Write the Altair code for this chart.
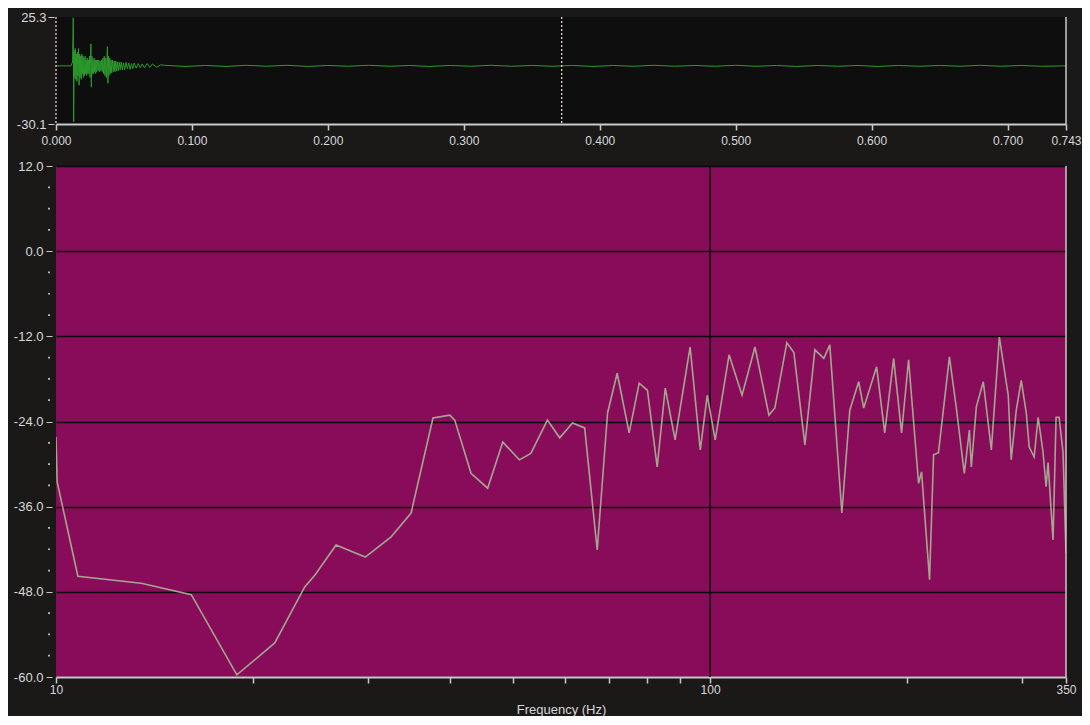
import altair as alt
import pandas as pd

# ---------------- Top panel: waveform ----------------
WAVE_T = [0.000, 0.011, 0.0122, 0.0127, 0.0130, 0.0134, 0.0138, 0.0142, 0.0146, 0.0150,
          0.0154, 0.0158, 0.0162, 0.0166, 0.0170, 0.0174, 0.0178, 0.0182, 0.0186, 0.0190,
          0.0194, 0.0198, 0.0202, 0.0206, 0.0210, 0.0214, 0.0218, 0.0222, 0.0226, 0.0230,
          0.0234, 0.0238, 0.0242, 0.0246, 0.0250, 0.0254, 0.0257, 0.0260, 0.0264, 0.0268,
          0.0272, 0.0276, 0.0280, 0.0284, 0.0288, 0.0292, 0.0296, 0.0300, 0.0305, 0.0310,
          0.0315, 0.0320, 0.0325, 0.0330, 0.0335, 0.0340, 0.0345, 0.0350, 0.0355, 0.0360,
          0.0365, 0.0370, 0.0378, 0.0382, 0.0386, 0.0390, 0.0395, 0.0400, 0.0405, 0.0410,
          0.0416, 0.0422, 0.0428, 0.0434, 0.0440, 0.0446, 0.0452, 0.0458, 0.0465, 0.0472,
          0.0480, 0.0488, 0.0496, 0.0505, 0.0515, 0.0525, 0.0535, 0.0545, 0.0555, 0.0565,
          0.0575, 0.0590, 0.0605, 0.0620, 0.0635, 0.0650, 0.0670, 0.0690, 0.0710, 0.0740,
          0.0770, 0.0800, 0.0950, 0.1100, 0.1250, 0.1400, 0.1550, 0.1700, 0.1850, 0.2000,
          0.2150, 0.2300, 0.2450, 0.2600, 0.2750, 0.2900, 0.3050, 0.3200, 0.3350, 0.3500,
          0.3650, 0.3800, 0.3950, 0.4100, 0.4250, 0.4400, 0.4550, 0.4700, 0.4850, 0.5000,
          0.5150, 0.5300, 0.5450, 0.5600, 0.5750, 0.5900, 0.6050, 0.6200, 0.6350, 0.6500,
          0.6650, 0.6800, 0.6950, 0.7100, 0.7250, 0.7430]
WAVE_V = [0.0, 0.0, 2.0, 24.9, -29.0, 8.0, -6.0, 9.0, -7.0, 6.0,
          -8.0, 7.0, -5.0, 9.0, -10.0, 6.0, -6.0, 5.0, -7.0, 6.0,
          -4.0, 5.0, -6.0, 4.0, -5.0, 5.0, -4.0, 3.0, -5.0, 4.0,
          -4.0, 3.0, -4.0, 5.0, -6.0, 4.0, 11.4, -11.0, 5.0, -4.0,
          3.0, -4.0, 4.0, -3.0, 3.0, -4.0, 3.0, -3.0, 3.0, -2.5,
          3.0, -3.0, 2.5, -2.5, 3.0, -3.0, 4.0, -4.0, 5.0, -5.0,
          4.0, -6.0, 10.0, -9.0, 5.0, -5.0, 4.0, -4.0, 3.0, -3.5,
          3.0, -3.0, 2.5, -3.0, 2.5, -2.5, 2.0, -2.5, 2.0, -2.0,
          2.0, -2.0, 1.5, -2.0, 1.8, -1.5, 1.5, -1.8, 1.2, -1.5,
          1.5, -1.2, 1.2, -1.0, 1.0, -1.0, 1.2, -0.8, 1.0, -0.7,
          0.5, 0.3, -0.3, 0.2, -0.3, 0.3, -0.2, 0.3, -0.3, 0.2,
          -0.2, 0.3, -0.2, 0.2, -0.3, 0.2, -0.2, 0.3, -0.2, 0.2,
          -0.2, 0.2, -0.3, 0.2, -0.2, 0.3, -0.2, 0.2, -0.2, 0.3,
          -0.2, 0.2, -0.3, 0.2, -0.2, 0.2, -0.3, 0.2, -0.2, 0.2,
          -0.2, 0.3, -0.2, 0.2, -0.2, 0.0]
MARKER_T = [0.000, 0.372]
TIME_DOMAIN = [0.000, 0.743]
TIME_TICKS = [0.0, 0.1, 0.2, 0.3, 0.4, 0.5, 0.6, 0.7, 0.743]
WAVE_RANGE = [-30.1, 25.3]

# ---------------- Bottom panel: spectrum ----------------
FREQ = [10.0, 10.04, 10.8, 13.5, 16.1, 18.9, 21.6, 24.0, 24.9, 26.8,
        29.7, 32.5, 34.9, 37.7, 40.0, 40.7, 43.1, 45.7, 48.2, 51.1,
        53.2, 56.4, 58.9, 61.6, 64.3, 67.2, 69.7, 72.1, 75.2, 77.9,
        80.2, 83.0, 85.4, 88.4, 93.2, 96.6, 99.0, 101.8, 106.9, 111.9,
        117.1, 123.0, 125.6, 131.0, 134.3, 139.6, 144.6, 149.2, 152.4, 159.0,
        163.5, 168.7, 171.7, 179.7, 184.9, 190.8, 196.2, 201.1, 208.3, 210.5,
        216.5, 219.6, 223.4, 232.2, 237.9, 244.7, 249.1, 250.8, 255.3, 261.6,
        269.1, 276.8, 285.6, 288.6, 293.8, 299.0, 304.3, 307.5, 312.9, 317.3,
        322.9, 326.3, 328.6, 334.4, 338.0, 341.6, 346.4, 350.0]
DB = [-26.2, -32.5, -45.8, -46.8, -48.4, -59.7, -55.2, -47.3, -45.6, -41.4,
      -43.1, -40.3, -36.9, -23.5, -23.1, -23.8, -31.3, -33.4, -26.9, -29.4,
      -28.5, -23.8, -26.3, -24.2, -24.9, -42.1, -22.8, -17.2, -25.6, -18.6,
      -19.6, -30.4, -19.3, -26.6, -13.5, -28.0, -20.3, -26.6, -14.6, -20.3,
      -13.5, -23.1, -22.1, -12.9, -14.3, -27.3, -13.9, -15.1, -13.2, -36.9,
      -22.4, -18.4, -22.1, -16.3, -25.6, -15.1, -25.6, -15.3, -32.7, -31.1,
      -46.3, -28.7, -28.4, -14.9, -22.1, -31.3, -25.2, -30.4, -21.9, -18.4,
      -28.0, -12.1, -20.3, -29.4, -22.4, -18.2, -22.8, -27.6, -29.0, -23.4,
      -28.4, -33.2, -29.8, -40.7, -23.4, -23.4, -28.4, -42.5]
FREQ_DOMAIN = [10, 350]
FREQ_TICKS = [10, 20, 30, 40, 50, 60, 70, 80, 90, 100, 200, 300, 350]
FREQ_LABELED = [10, 100, 350]
FREQ_GRID = [100]
DB_DOMAIN = [-60, 12]
DB_TICKS = [12, 0, -12, -24, -36, -48, -60]
DB_MINOR = [9, 6, 3, -3, -6, -9, -15, -18, -21, -27, -30, -33,
            -39, -42, -45, -51, -54, -57]

FONT = "Liberation Sans"
LABEL = "#d8d8d8"
FRAME = "#c9c9c9"
HYPHEN_1F = "replace(format(datum.value, '.1f'), '\u2212', '-')"

# ---- top ----
wave_df = pd.DataFrame({"t": WAVE_T, "v": WAVE_V})
t_scale = alt.Scale(domain=TIME_DOMAIN, nice=False, zero=False)
v_scale = alt.Scale(domain=WAVE_RANGE, nice=False, zero=False)

wave = alt.Chart(wave_df).mark_line(color="#2c9a2c", strokeWidth=1, clip=True).encode(
    x=alt.X("t:Q", scale=t_scale,
            axis=alt.Axis(values=TIME_TICKS, format=".3f", title=None, grid=False,
                          domainColor=FRAME, domainWidth=2, tickColor=FRAME, tickSize=6,
                          tickWidth=1.5, labelPadding=5, labelFlush=False,
                          labelOverlap=False, labelFontSize=12)),
    y=alt.Y("v:Q", scale=v_scale,
            axis=alt.Axis(values=WAVE_RANGE, labelExpr=HYPHEN_1F, title=None, grid=False,
                          domain=False, tickColor=FRAME, tickSize=6, offset=2,
                          labelPadding=2, labelFontSize=13)),
)
markers = alt.Chart(pd.DataFrame({"t": MARKER_T})).mark_rule(
    color="#f0cfe0", strokeDash=[2, 2], strokeWidth=1.3
).encode(x=alt.X("t:Q", scale=t_scale))
top_edge = alt.Chart(pd.DataFrame({"t": [TIME_DOMAIN[1]]})).mark_rule(
    color=FRAME, strokeWidth=1.5
).encode(x=alt.X("t:Q", scale=t_scale))

top = alt.layer(wave, markers, top_edge).properties(
    width=1010, height=107,
    view=alt.ViewBackground(fill="#0e0e0e", strokeWidth=0),
)

# ---- bottom ----
spec_df = pd.DataFrame({"f": FREQ, "db": DB})
f_scale = alt.Scale(type="log", domain=FREQ_DOMAIN, nice=False)
db_scale = alt.Scale(domain=DB_DOMAIN, nice=False, zero=False)
label_test = " || ".join(f"datum.value == {v}" for v in FREQ_LABELED)

vgrid = alt.Chart(pd.DataFrame({"f": FREQ_GRID})).mark_rule(
    color="#0a0a0a", strokeWidth=1.5
).encode(x=alt.X("f:Q", scale=f_scale))

spec = alt.Chart(spec_df).mark_line(color="#a4a68e", strokeWidth=1.6, clip=True).encode(
    x=alt.X("f:Q", scale=f_scale,
            axis=alt.Axis(values=FREQ_TICKS, title="Frequency (Hz)",
                          labelExpr=f"({label_test}) ? format(datum.value, 'd') : ''",
                          grid=False, domainColor=FRAME, domainWidth=2, tickColor=FRAME,
                          tickSize=6, tickWidth=1.5, labelPadding=1, labelFlush=False,
                          labelOverlap=False, labelFontSize=12, titleColor=LABEL,
                          titleFont=FONT, titleFontSize=13, titleFontWeight="normal",
                          titlePadding=8)),
    y=alt.Y("db:Q", scale=db_scale,
            axis=alt.Axis(values=DB_TICKS, labelExpr=HYPHEN_1F, title=None, grid=True,
                          gridColor="#0a0a0a", gridWidth=1.5, domain=False,
                          tickColor=FRAME, tickSize=6, offset=4, labelPadding=3,
                          labelFontSize=13)),
)
minor = alt.Chart(pd.DataFrame({"db": DB_MINOR})).mark_square(
    size=3, color="#d0d0d0", opacity=1
).encode(x=alt.value(-7), y=alt.Y("db:Q", scale=db_scale))
bottom_edge = alt.Chart(pd.DataFrame({"f": [FREQ_DOMAIN[1]]})).mark_rule(
    color=FRAME, strokeWidth=1.5
).encode(x=alt.X("f:Q", scale=f_scale))

bottom = alt.layer(vgrid, spec, minor, bottom_edge).properties(
    width=1010, height=511,
    view=alt.ViewBackground(fill="#890c5a", strokeWidth=0),
)

chart = alt.vconcat(top, bottom, spacing=42, bounds="flush").configure(
    background="#1a1918",
    padding={"left": 5, "top": 3, "right": 0, "bottom": 0},
    font=FONT,
).configure_axis(
    labelFont=FONT, labelColor=LABEL,
)

chart.save("out.html", embed_options={"renderer": "svg", "actions": False})
